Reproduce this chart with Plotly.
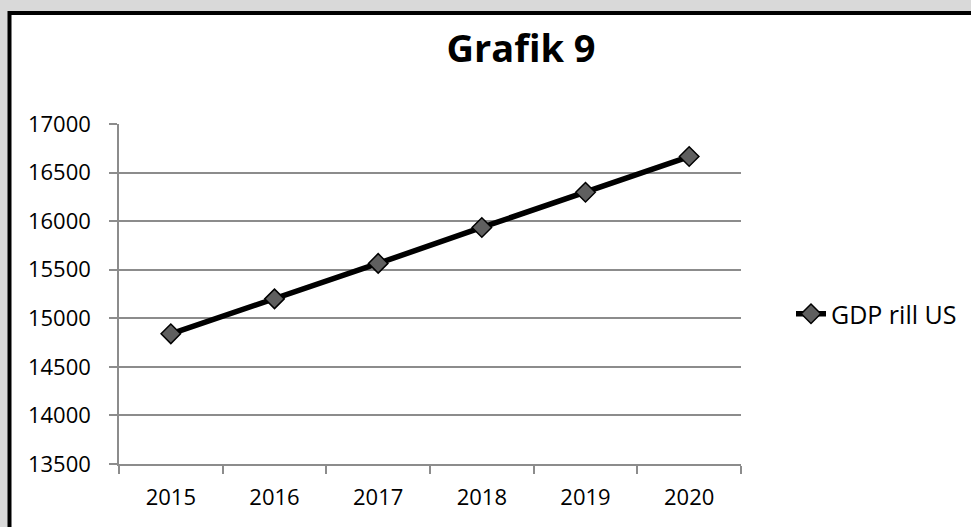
import plotly.graph_objects as go

# GDP series by year
years = ["2015", "2016", "2017", "2018", "2019", "2020"]
gdp_rill_us = [14840, 15200, 15565, 15935, 16298, 16665]

y_ticks = [13500, 14000, 14500, 15000, 15500, 16000, 16500, 17000]
y_tick_text = [str(v) for v in y_ticks]

FONT = "Open Sans"
GRID = "#8c8c8c"

fig = go.Figure()
fig.add_trace(go.Scatter(
    x=years, y=gdp_rill_us, name="GDP rill US",
    mode="lines+markers",
    line=dict(color="black", width=5.5),
    marker=dict(symbol="diamond", size=15, color="#5f5f5f",
                line=dict(color="black", width=1.5)),
))

W, H = 971, 527
L, R, T, B = 119, 230, 124, 63
pw, ph = W - L - R, H - T - B

def px_x(v):
    return (v - L) / pw

def px_y(v):
    return (H - B - v) / ph

# white chart card with a heavy black frame
fig.add_shape(type="rect", xref="paper", yref="paper", layer="below",
              x0=px_x(9.5), x1=px_x(990), y0=px_y(13), y1=px_y(545),
              fillcolor="white", line=dict(color="black", width=4))

fig.update_layout(
    width=W, height=H,
    margin=dict(l=L, r=R, t=T, b=B, pad=0, autoexpand=False),
    paper_bgcolor="#d9d9d9",
    plot_bgcolor="rgba(0,0,0,0)",
    font=dict(family=FONT, size=22, color="black"),
    title=dict(text="<b>Grafik 9</b>", x=px_x(521), xanchor="center",
               xref="paper", y=1 - 49 / H, yanchor="middle",
               font=dict(family=FONT, size=38, color="black")),
    showlegend=True,
    legend=dict(x=px_x(791), y=px_y(314), xanchor="left", yanchor="middle",
                bgcolor="rgba(0,0,0,0)", font=dict(size=25, family=FONT),
                itemwidth=30),
    xaxis=dict(type="category", range=[-0.5, len(years) - 0.5],
               showgrid=False, showline=True,
               linecolor=GRID, linewidth=1.5, ticks="outside",
               tickson="boundaries", ticklen=8, tickcolor=GRID, tickwidth=1.5,
               tickfont=dict(size=22, family=FONT), ticklabelstandoff=13,
               automargin=False),
    yaxis=dict(range=[13500, 17000], tickvals=y_ticks, ticktext=y_tick_text,
               showgrid=True, gridcolor=GRID, gridwidth=1.5,
               showline=True, linecolor=GRID, linewidth=1.5,
               ticks="outside", ticklen=8, tickcolor=GRID, tickwidth=1.5,
               tickfont=dict(size=22, family=FONT), ticklabelstandoff=14,
               zeroline=False, automargin=False),
)

fig.write_html("out.html")
